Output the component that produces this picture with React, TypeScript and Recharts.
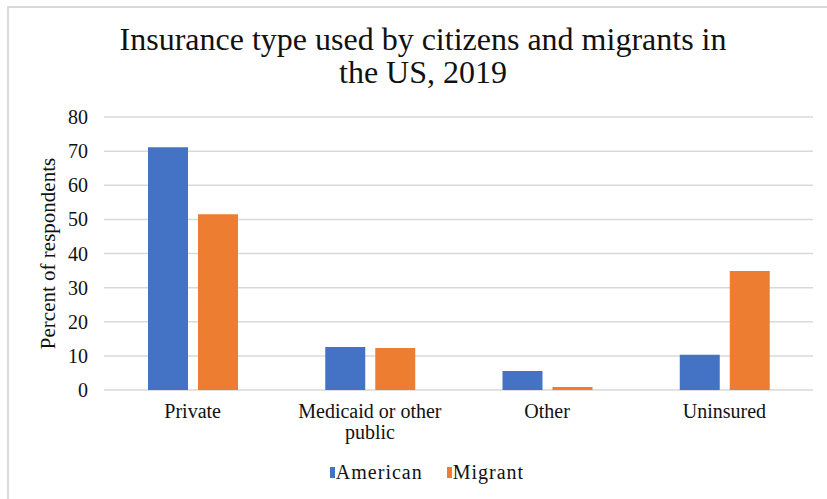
import React from "react";
import { BarChart, Bar, XAxis, YAxis, CartesianGrid, Legend, Label, Text } from "recharts";

const CATEGORIES = ["Private", "Medicaid or other public", "Other", "Uninsured"];
const AMERICAN = [71.1, 12.6, 5.6, 10.3];
const MIGRANT = [51.5, 12.3, 0.9, 34.9];
const Y_TICKS = [0, 10, 20, 30, 40, 50, 60, 70, 80];
const SERIES = [
  { key: "american", name: "American", color: "#4472C4" },
  { key: "migrant", name: "Migrant", color: "#ED7D31" },
];
const TITLE_LINES = ["Insurance type used by citizens and migrants in", "the US, 2019"];
const Y_LABEL = "Percent of respondents";

const FONT = "Liberation Serif, Times New Roman, serif";
const INK = "#111";

const data = CATEGORIES.map((name, i) => ({
  name,
  american: AMERICAN[i],
  migrant: MIGRANT[i],
}));

const CategoryTick = ({ x, y, payload }: any) => (
  <Text
    x={x}
    y={y}
    width={150}
    textAnchor="middle"
    verticalAnchor="start"
    lineHeight={21}
    fill={INK}
    fontFamily={FONT}
    fontSize={20}
    style={{ fontFamily: FONT, fontSize: 20 }}
  >
    {payload.value}
  </Text>
);

const YLabel = ({ viewBox }: any) => {
  const x = viewBox.x + 55;
  const y = viewBox.y + viewBox.height / 2;
  return (
    <text
      x={x}
      y={y}
      transform={`rotate(-90, ${x}, ${y})`}
      textAnchor="middle"
      fill={INK}
      fontFamily={FONT}
      fontSize={21}
    >
      {Y_LABEL}
    </text>
  );
};

const renderLegend = () => (
  <div
    style={{
      display: "flex",
      justifyContent: "center",
      paddingLeft: 27,
      gap: 24,
      fontFamily: FONT,
      fontSize: 20,
      letterSpacing: 1,
      color: INK,
      lineHeight: "22px",
    }}
  >
    {SERIES.map((s) => (
      <span key={s.key} style={{ display: "flex", alignItems: "center", fontFamily: FONT }}>
        <span
          style={{ display: "inline-block", width: 5, height: 11, background: s.color, marginRight: 1 }}
        />
        {s.name}
      </span>
    ))}
  </div>
);

export default function App() {
  return (
    <div style={{ position: "absolute", left: 0, top: 0, width: 827, height: 499, background: "#fff" }}>
      <div
        style={{
          position: "absolute",
          left: 7,
          top: 6,
          width: 820,
          height: 493,
          boxSizing: "border-box",
          borderTop: "2px solid #d9d9d9",
          borderLeft: "2px solid #d9d9d9",
        }}
      />
      <div
        style={{
          position: "absolute",
          left: 0,
          top: 23,
          width: 846,
          textAlign: "center",
          fontFamily: FONT,
          fontSize: 32,
          lineHeight: "33px",
          color: INK,
        }}
      >
        {TITLE_LINES.map((line) => (
          <div key={line}>{line}</div>
        ))}
      </div>
      <div style={{ position: "absolute", left: 0, top: 0 }}>
        <BarChart
          width={827}
          height={499}
          data={data}
          margin={{ top: 117, right: 14, left: 0, bottom: 27 }}
          barSize={40}
          barGap={10}
          style={{ fontFamily: FONT }}
        >
          <CartesianGrid vertical={false} stroke="#d9d9d9" strokeWidth={1.5} />
          <XAxis
            dataKey="name"
            axisLine={false}
            tickLine={false}
            height={60}
            tickMargin={8}
            interval={0}
            tick={<CategoryTick />}
          />
          <YAxis
            width={104}
            domain={[0, 80]}
            ticks={Y_TICKS}
            axisLine={false}
            tickLine={false}
            tickMargin={10}
            tick={{ fill: INK, fontFamily: FONT, fontSize: 20 }}
          >
            <Label content={<YLabel />} />
          </YAxis>
          <Legend
            verticalAlign="bottom"
            content={renderLegend}
            wrapperStyle={{ left: 0, width: 827, top: 461, fontFamily: FONT }}
          />
          {SERIES.map((s) => (
            <Bar key={s.key} dataKey={s.key} name={s.name} fill={s.color} isAnimationActive={false} />
          ))}
        </BarChart>
      </div>
    </div>
  );
}
